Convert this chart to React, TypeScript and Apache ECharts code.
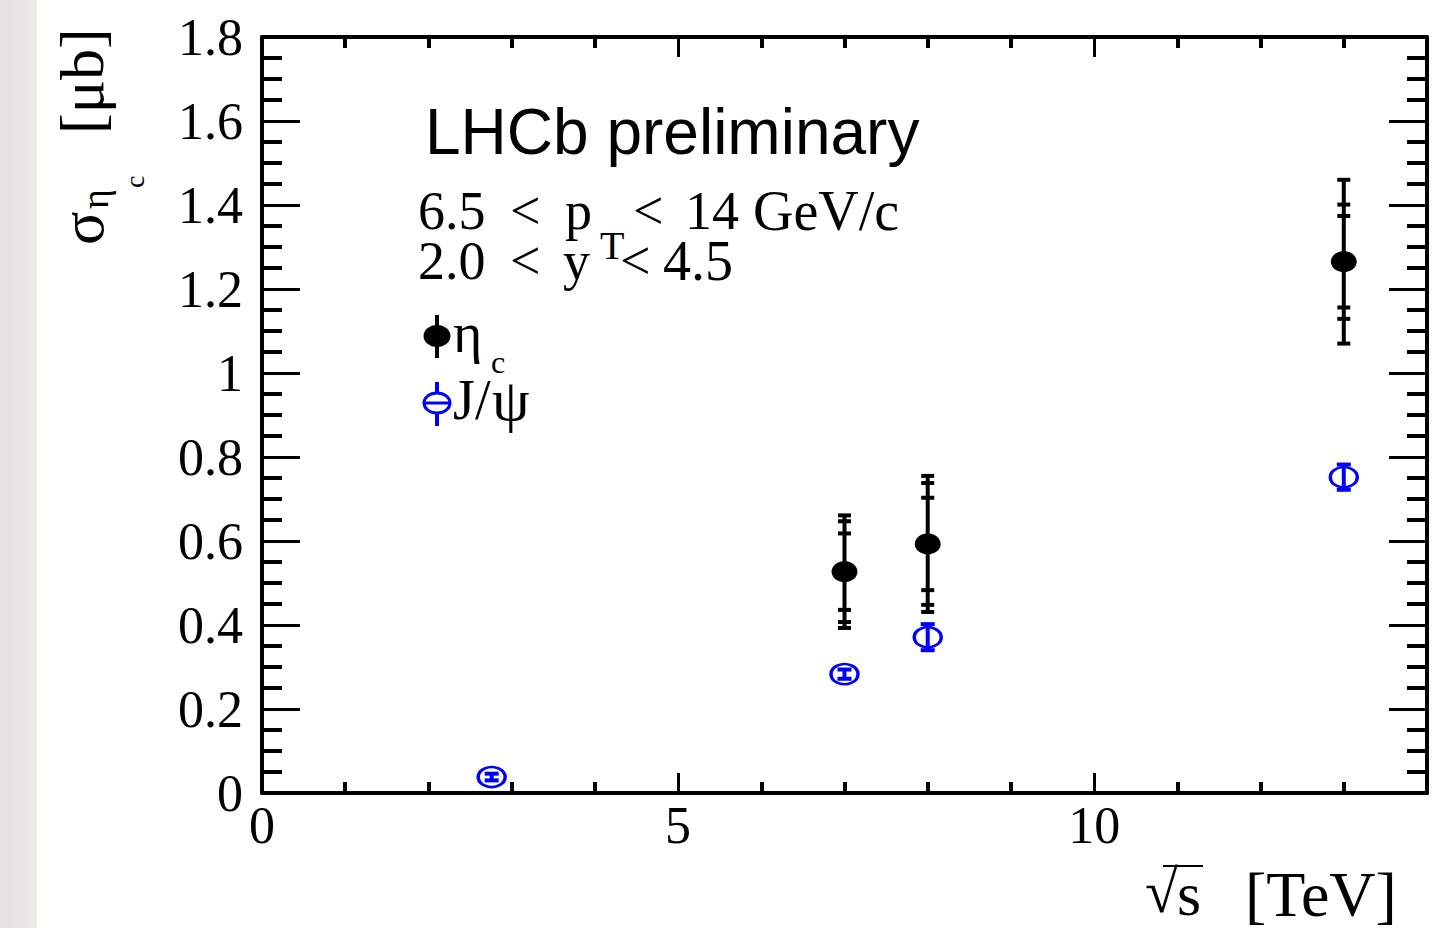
import React, { useEffect, useRef } from "react";
import * as echarts from "echarts";

// ---------- data ----------
const xTickLabels = ["0", "5", "10"];
const etaSqrtS = [7, 8, 13];
const etaSigma = [0.527, 0.593, 1.265];
const etaErrInner = [0.091, 0.11, 0.109];
const etaErrMid = [0.12, 0.145, 0.136];
const etaErrOuter = [0.134, 0.162, 0.195];
const jpsiSqrtS = [2.76, 7, 8, 13];
const jpsiSigma = [0.038, 0.283, 0.371, 0.752];
const jpsiErr = [0.008, 0.011, 0.031, 0.03];

const SERIF = '"Liberation Serif", "Times New Roman", serif';
const SANS = '"Liberation Sans", Arial, sans-serif';
const BLUE = "#0000ff";

const etaData = etaSqrtS.map((x, i) => [x, etaSigma[i], etaErrInner[i], etaErrMid[i], etaErrOuter[i]]);
const jpsiData = jpsiSqrtS.map((x, i) => [x, jpsiSigma[i], jpsiErr[i]]);

function hline(cx: number, cy: number, half: number, color: string, w: number) {
  return { type: "line", shape: { x1: cx - half, y1: cy, x2: cx + half, y2: cy }, style: { stroke: color, lineWidth: w } };
}

function etaErrRender(params: any, api: any) {
  const x = api.value(0);
  const y = api.value(1);
  const errs = [api.value(2), api.value(3), api.value(4)];
  const top = api.coord([x, y + errs[2]]);
  const bot = api.coord([x, y - errs[2]]);
  const children: any[] = [
    { type: "line", shape: { x1: top[0], y1: top[1], x2: bot[0], y2: bot[1] }, style: { stroke: "#000", lineWidth: 4 } },
  ];
  errs.forEach((e) => {
    const p1 = api.coord([x, y + e]);
    const p2 = api.coord([x, y - e]);
    children.push(hline(p1[0], p1[1], 6.5, "#000", 4));
    children.push(hline(p2[0], p2[1], 6.5, "#000", 4));
  });
  return { type: "group", children };
}

function jpsiErrRender(params: any, api: any) {
  const x = api.value(0);
  const y = api.value(1);
  const e = api.value(2);
  const top = api.coord([x, y + e]);
  const bot = api.coord([x, y - e]);
  return {
    type: "group",
    children: [
      { type: "line", shape: { x1: top[0], y1: top[1], x2: bot[0], y2: bot[1] }, style: { stroke: BLUE, lineWidth: 4 } },
      hline(top[0], top[1], 7, BLUE, 4),
      hline(bot[0], bot[1], 7, BLUE, 4),
    ],
  };
}

const axisCommonX = {
  type: "value",
  min: 0,
  max: 14,
  interval: 5,
  axisLine: { show: true, onZero: false, lineStyle: { color: "#000", width: 4 } },
  axisTick: { show: true, inside: true, length: 20, lineStyle: { color: "#000", width: 3 } },
  minorTick: { show: true, splitNumber: 5, length: 11, lineStyle: { color: "#000", width: 4 } },
  splitLine: { show: false },
};

const axisCommonY = {
  type: "value",
  min: 0,
  max: 1.8,
  interval: 0.2,
  axisLine: { show: true, onZero: false, lineStyle: { color: "#000", width: 4 } },
  axisTick: { show: true, inside: true, length: 38, lineStyle: { color: "#000", width: 3 } },
  minorTick: { show: true, splitNumber: 4, length: 20, lineStyle: { color: "#000", width: 4 } },
  splitLine: { show: false },
};

function txt(x: number, y: number, text: string, size: number, family: string, color = "#000", rotation = 0) {
  return {
    type: "text",
    x,
    y,
    rotation,
    silent: true,
    style: { text, fontSize: size, fontFamily: family, fill: color, align: "left", verticalAlign: "middle" },
  };
}

const graphics: any[] = [
  {
    type: "rect",
    silent: true,
    z: -10,
    shape: { x: 0, y: 0, width: 37, height: 928 },
    style: {
      fill: new echarts.graphic.LinearGradient(0, 0, 1, 0, [
        { offset: 0, color: "#e3e2df" },
        { offset: 1, color: "#ebeae7" },
      ]),
    },
  },
  txt(425, 132, "LHCb preliminary", 64, SANS),
  // line 1
  txt(418, 210.5, "6.5", 54, SERIF),
  txt(510, 210.5, "<", 54, SERIF),
  txt(565, 210.5, "p", 54, SERIF),
  txt(600, 245.8, "T", 40, SERIF),
  txt(633, 210.5, "<", 54, SERIF),
  txt(685, 210.5, "14", 54, SERIF),
  txt(753, 210.5, "GeV/c", 56, SERIF),
  // line 2
  txt(418, 260.5, "2.0", 54, SERIF),
  txt(510, 260.5, "<", 54, SERIF),
  txt(563, 260.5, "y", 54, SERIF),
  txt(620, 260.5, "<", 54, SERIF),
  txt(663, 260.5, "4.5", 56, SERIF),
  // legend eta_c
  { type: "line", silent: true, shape: { x1: 437, y1: 315, x2: 437, y2: 358 }, style: { stroke: "#000", lineWidth: 4 } },
  { type: "ellipse", silent: true, shape: { cx: 437, cy: 336, rx: 13.5, ry: 11 }, style: { fill: "#000" } },
  txt(453, 332.5, "η", 56, SERIF),
  txt(491, 362, "c", 32, SERIF),
  // legend J/psi
  { type: "line", silent: true, shape: { x1: 437, y1: 382, x2: 437, y2: 393 }, style: { stroke: BLUE, lineWidth: 4 } },
  { type: "line", silent: true, shape: { x1: 437, y1: 413, x2: 437, y2: 426 }, style: { stroke: BLUE, lineWidth: 4 } },
  { type: "ellipse", silent: true, shape: { cx: 437, cy: 403, rx: 13, ry: 10 }, style: { fill: "none", stroke: BLUE, lineWidth: 3 } },
  { type: "line", silent: true, shape: { x1: 424, y1: 403, x2: 450, y2: 403 }, style: { stroke: BLUE, lineWidth: 3 } },
  txt(453, 399.5, "J", 56, SERIF),
  txt(475, 399.5, "/", 56, SERIF),
  txt(492, 399.5, "ψ", 60, SERIF),
  // y axis title (rotated)
  txt(82, 245, "σ", 62, SERIF, "#000", Math.PI / 2),
  txt(95, 209, "η", 38, SERIF, "#000", Math.PI / 2),
  txt(134.5, 188, "c", 28, SERIF, "#000", Math.PI / 2),
  txt(82, 134, "[μb]", 62, SERIF, "#000", Math.PI / 2),
  // x axis title
  txt(1145, 892, "√", 60, SERIF),
  { type: "line", silent: true, shape: { x1: 1163, y1: 866, x2: 1203, y2: 866 }, style: { stroke: "#000", lineWidth: 2 } },
  txt(1177, 894, "s", 62, SERIF),
  txt(1245, 894, "[TeV]", 64, SERIF),
];

const option: any = {
  animation: false,
  backgroundColor: "#ffffff",
  textStyle: { fontFamily: SERIF },
  grid: { left: 262, right: 12, top: 37, bottom: 135, containLabel: false, outerBoundsMode: "none" },
  xAxis: [
    {
      ...axisCommonX,
      position: "bottom",
      axisLabel: {
        show: true,
        margin: 6,
        showMaxLabel: false,
        fontFamily: SERIF,
        fontSize: 52,
        color: "#000",
        formatter: (v: number) => {
          const idx = Math.round(v / 5);
          return Math.abs(v - idx * 5) < 1e-9 && idx < xTickLabels.length ? xTickLabels[idx] : "";
        },
      },
    },
    { ...axisCommonX, position: "top", axisLabel: { show: false } },
  ],
  yAxis: [
    {
      ...axisCommonY,
      position: "left",
      axisLabel: { show: true, margin: 19, fontFamily: SERIF, fontSize: 52, color: "#000" },
    },
    { ...axisCommonY, position: "right", axisLabel: { show: false } },
  ],
  graphic: graphics,
  series: [
    {
      type: "custom",
      name: "eta_c errors",
      xAxisIndex: 0,
      yAxisIndex: 0,
      data: etaData,
      renderItem: etaErrRender,
      silent: true,
      z: 3,
    },
    {
      type: "scatter",
      name: "ηc",
      xAxisIndex: 0,
      yAxisIndex: 0,
      data: etaData.map((d) => [d[0], d[1]]),
      symbol: "circle",
      symbolSize: [26, 21],
      itemStyle: { color: "#000", opacity: 1 },
      silent: true,
      z: 4,
    },
    {
      type: "custom",
      name: "J/psi errors",
      xAxisIndex: 0,
      yAxisIndex: 0,
      data: jpsiData,
      renderItem: jpsiErrRender,
      silent: true,
      z: 3,
    },
    {
      type: "scatter",
      name: "J/ψ",
      xAxisIndex: 0,
      yAxisIndex: 0,
      data: jpsiData.map((d) => [d[0], d[1]]),
      symbol: "circle",
      symbolSize: [27, 20],
      itemStyle: { color: "rgba(255,255,255,0)", borderColor: BLUE, borderWidth: 3, opacity: 1 },
      silent: true,
      z: 4,
    },
  ],
};

export default function App() {
  const ref = useRef<HTMLDivElement>(null);
  useEffect(() => {
    if (!ref.current) return;
    const chart = echarts.init(ref.current, null, { renderer: "svg" });
    chart.setOption(option);
    return () => chart.dispose();
  }, []);
  return (
    <div
      ref={ref}
      style={{ position: "absolute", left: 0, top: 0, width: 1439, height: 928, background: "#ffffff" }}
    />
  );
}
